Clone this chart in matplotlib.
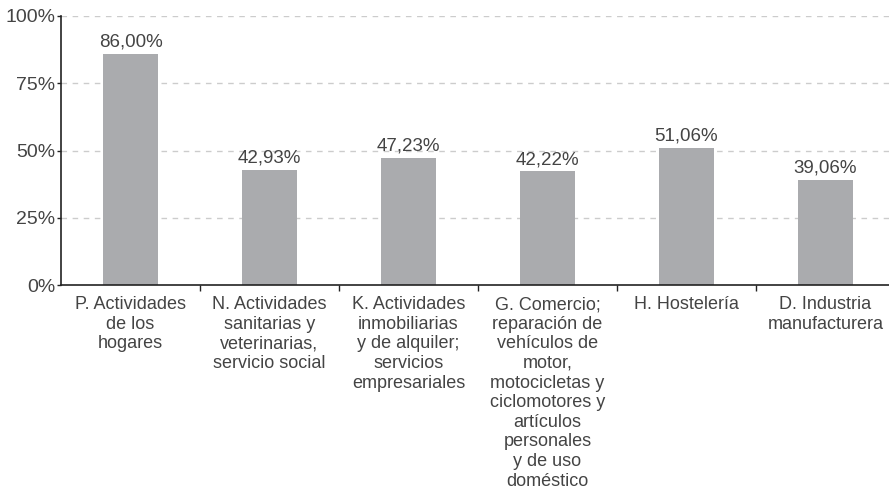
import matplotlib
matplotlib.use("Agg")
import matplotlib.pyplot as plt
from matplotlib.ticker import FixedLocator, NullFormatter

categories = [
    "P. Actividades\nde los\nhogares",
    "N. Actividades\nsanitarias y\nveterinarias,\nservicio social",
    "K. Actividades\ninmobiliarias\ny de alquiler;\nservicios\nempresariales",
    "G. Comercio;\nreparación de\nvehículos de\nmotor,\nmotocicletas y\nciclomotores y\nartículos\npersonales\ny de uso\ndoméstico",
    "H. Hostelería",
    "D. Industria\nmanufacturera",
]
values = [86.00, 42.93, 47.23, 42.22, 51.06, 39.06]
value_labels = ["86,00%", "42,93%", "47,23%", "42,22%", "51,06%", "39,06%"]
yticks = [0, 25, 50, 75, 100]
ytick_labels = ["0%", "25%", "50%", "75%", "100%"]

plt.rcParams['font.family'] = ['Liberation Sans', 'DejaVu Sans']
text_color = "#444444"

fig = plt.figure(figsize=(8.89, 4.88), dpi=100)
ax = fig.add_axes([61/889, 1 - 285/488, (889 - 61)/889, (285 - 16)/488])

x = list(range(len(categories)))
ax.bar(x, values, width=0.4, color="#aaabae", zorder=2)
for xi, v, lab in zip(x, values, value_labels):
    ax.text(xi, v + 1.2, lab, ha="center", va="bottom", fontsize=13.5, color=text_color)

ax.set_ylim(0, 100)
ax.set_xlim(-0.5, -0.5 + 828/139)
ax.set_yticks(yticks)
ax.set_yticklabels(ytick_labels, fontsize=14, color=text_color)
for y in yticks[1:]:
    ax.axhline(y, color="#cccccc", linestyle=(0, (4, 4)), linewidth=1, zorder=1)

ax.xaxis.set_major_locator(FixedLocator(x))
ax.set_xticklabels(categories, fontsize=13, color=text_color, linespacing=1.2, va="top")
ax.tick_params(axis="x", which="major", length=0, pad=8)
ax.xaxis.set_minor_locator(FixedLocator([i + 0.5 for i in range(len(categories) - 1)]))
ax.xaxis.set_minor_formatter(NullFormatter())
ax.tick_params(axis="x", which="minor", length=4, width=1, direction="out", color="#222222")
ax.tick_params(axis="y", length=3, width=1, direction="out", color="#222222", pad=1)

for s in ["top", "right"]:
    ax.spines[s].set_visible(False)
for s in ["left", "bottom"]:
    ax.spines[s].set_color("#222222")
    ax.spines[s].set_linewidth(1.2)

fig.savefig("out.png", dpi=100)
